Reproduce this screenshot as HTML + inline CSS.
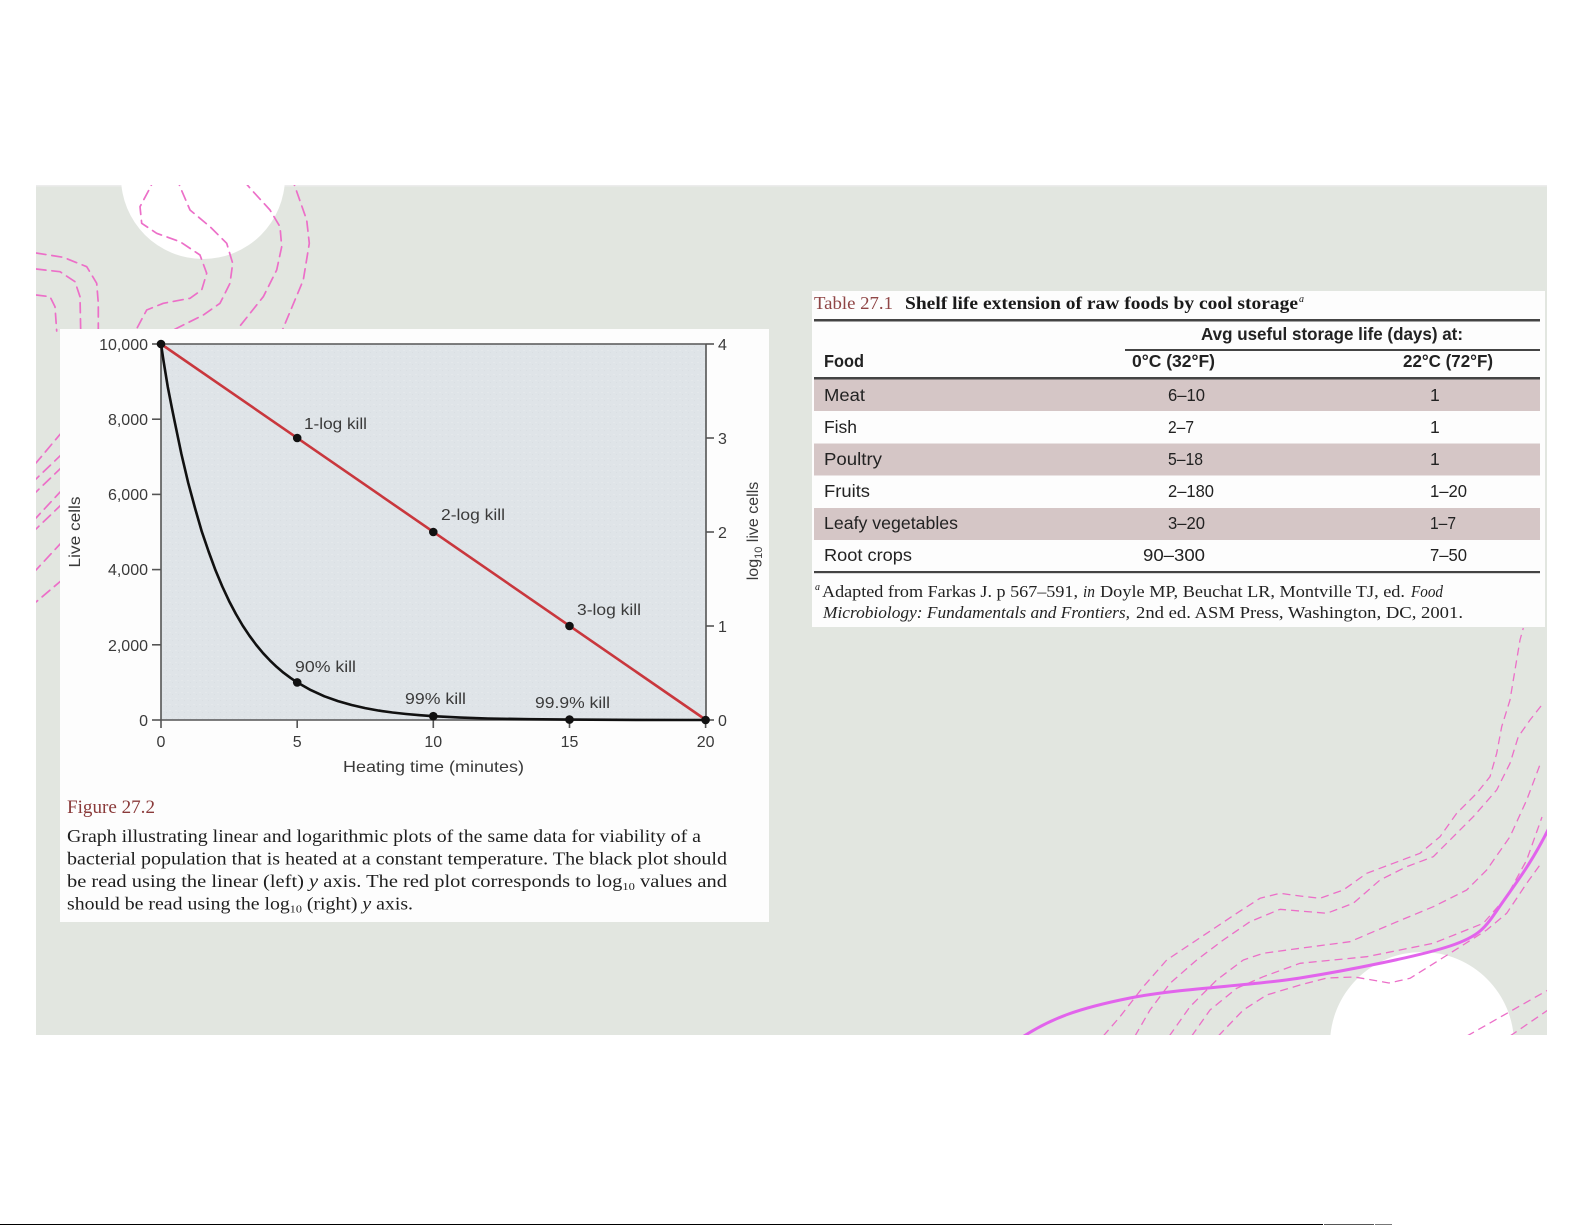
<!DOCTYPE html>
<html><head><meta charset="utf-8"><style>
html,body{margin:0;padding:0;background:#fff;}
svg{display:block;}
.s{font-family:"Liberation Sans",sans-serif;}
.r{font-family:"Liberation Serif",serif;}
</style></head><body>
<svg width="1585" height="1225" viewBox="0 0 1585 1225" xmlns="http://www.w3.org/2000/svg">
<defs>
<clipPath id="slide"><rect x="36" y="185" width="1511" height="850"/></clipPath>
<pattern id="tex" width="6" height="6" patternUnits="userSpaceOnUse">
<rect width="6" height="6" fill="#dfe4e8"/>
<rect x="1" y="2" width="2" height="1" fill="#e4e8eb"/>
<rect x="4" y="4" width="1" height="1" fill="#d9dee2"/>
</pattern>
</defs>
<rect width="1585" height="1225" fill="#ffffff"/>
<!-- slide -->
<rect x="36" y="185" width="1511" height="850" fill="#e2e6e0"/>
<rect x="36" y="185" width="1511" height="1.5" fill="#ececec"/>
<g clip-path="url(#slide)">
<circle cx="203" cy="177" r="82" fill="#ffffff"/>
<circle cx="1422" cy="1044" r="92" fill="#ffffff"/>
<g fill="none" stroke="#ec6fc8" stroke-width="1.7" stroke-dasharray="10 6" stroke-linejoin="round" stroke-linecap="round">
<polyline points="155,176 150.7,186.7 140,206.7 141.7,223.3 156.7,233.3 180,241.7 200,255 206.7,273.3 201.7,290 190,298.3 163.3,303.3 146.7,310 136,330"/>
<polyline points="176,176 180,186.7 190,210 210,226.7 226.7,243.3 232.7,263.3 230,283.3 220,303.3 203.3,315 173.3,330"/>
<polyline points="243,180 251.7,190 270,210 280,226.7 281.7,246.7 276.7,270 263.3,296.7 236,331"/>
<polyline points="291,176 295,186.7 306.7,220 309.3,243.3 303.3,280 282,331"/>
<polyline points="36,253 63.3,257.3 86.7,266.7 96.7,283.3 98.3,303.3 98.3,331"/>
<polyline points="36,269 60,271.7 75,281.7 80,296.7 80.7,331"/>
<polyline points="36,295 50,296.7 55,306.7 56.7,331"/>
<line x1="62" y1="432" x2="36" y2="463"/>
<line x1="62" y1="454" x2="36" y2="479"/>
<line x1="62" y1="467" x2="36" y2="492"/>
<line x1="62" y1="490" x2="36" y2="518"/>
<line x1="62" y1="504" x2="36" y2="529"/>
<line x1="62" y1="542" x2="36" y2="570"/>
<line x1="62" y1="580" x2="36" y2="602"/>
</g>
<g fill="none" stroke="#ec6fc8" stroke-width="1.3" stroke-dasharray="8 5" stroke-linejoin="round">
<polyline points="1103.3,1036 1120,1016.7 1143.3,986.7 1166.7,960 1196.7,940 1236.7,913.3 1260,898.3 1280,893.3 1300,896 1320,898.3 1343.3,890 1366.7,873.3 1393.3,863.3 1420,853.3 1440,836.7 1456.7,813.3 1476.7,793.3 1490,776.7 1496.7,753.3 1501.7,726.7 1510,700 1515,670 1520,640 1523.3,628"/>
<polyline points="1135,1036 1150,1010 1170,983.3 1196.7,960 1223.3,940 1250,921.7 1280,909.3 1300,911 1326.7,913.3 1353.3,903.3 1380,880 1406.7,866.7 1433.3,856.7 1453.3,836.7 1473.3,816.7 1496.7,790 1510,763.3 1518.3,736.7 1530,720 1541,706"/>
<polyline points="1169.3,1036 1190,1006.7 1216.7,980 1243.3,960 1263.3,953.3 1300,948.3 1350,941.7 1393.3,923.3 1433.3,906.7 1466.7,890 1486.7,870 1510,836.7 1526.7,800 1541,762"/>
<polyline points="1191.7,1036 1210,1010 1236.7,988.3 1263.3,976.7 1300,963.3 1366.7,956.7 1433.3,943.3 1483.3,923.3 1506.7,896.7 1526.7,860 1542,817"/>
<polyline points="1218.3,1036 1243.3,1010 1266.7,995 1300,985 1327,978 1354.7,977 1389,983 1410,978.3 1450,953.3 1486.7,930 1506.7,913.3 1526.7,883.3 1542,862"/>
<line x1="1467" y1="1036" x2="1548" y2="990"/>
<line x1="1510" y1="1036" x2="1548" y2="1010"/>
</g>
<path fill="none" stroke="#e264ec" stroke-width="3" stroke-linecap="round" d="M1018,1040 C1050,1018 1080,1008 1130,998 S1250,986 1300,978 S1420,956 1450,946 S1485,928 1500,906 S1530,866 1549,828"/>
</g>

<!-- chart panel -->
<rect x="60" y="329" width="709" height="593" fill="#fdfdfd"/>
<rect x="161" y="344" width="545" height="376" fill="url(#tex)"/>
<g stroke="#555" stroke-width="1.6" fill="none">
<line x1="161" y1="344" x2="706" y2="344"/>
<line x1="161" y1="344" x2="161" y2="720"/>
<line x1="706" y1="344" x2="706" y2="720"/>
<line x1="161" y1="720" x2="706" y2="720"/>
<line x1="152" y1="344" x2="161" y2="344"/>
<line x1="152" y1="419.2" x2="161" y2="419.2"/>
<line x1="152" y1="494.4" x2="161" y2="494.4"/>
<line x1="152" y1="569.6" x2="161" y2="569.6"/>
<line x1="152" y1="644.8" x2="161" y2="644.8"/>
<line x1="152" y1="720" x2="161" y2="720"/>
<line x1="706" y1="344" x2="714" y2="344"/>
<line x1="706" y1="438" x2="714" y2="438"/>
<line x1="706" y1="532" x2="714" y2="532"/>
<line x1="706" y1="626" x2="714" y2="626"/>
<line x1="706" y1="720" x2="714" y2="720"/>
<line x1="161" y1="720" x2="161" y2="728"/>
<line x1="297.2" y1="720" x2="297.2" y2="728"/>
<line x1="433.3" y1="720" x2="433.3" y2="728"/>
<line x1="569.5" y1="720" x2="569.5" y2="728"/>
<line x1="705.6" y1="720" x2="705.6" y2="728"/>
</g>
<line x1="161" y1="344" x2="706" y2="720" stroke="#c9373d" stroke-width="2.6"/>
<polyline fill="none" stroke="#111" stroke-width="2.6" stroke-linejoin="round" points="161,344 163.7,362 167.8,387 171.9,408 174.6,421.3 181.4,454 188.2,482.8 195,508 201.8,531.6 208.6,551.5 215.5,570.3 222.3,586.5 229.1,601.1 235.9,614 242.7,625.6 249.5,635.8 256.3,645 263.1,653.2 269.9,660.4 276.7,666.9 283.5,672.7 290.4,677.8 297.2,682.4 310.8,690.1 324.4,696.3 338,701.1 351.6,705 365.2,708.1 378.8,710.6 392.5,712.5 406.1,714 419.7,715.2 433.3,716.2 460.6,717.6 487.8,718.5 528.6,719.2 569.5,719.6 637.6,719.9 705.6,720"/>
<g fill="#111">
<circle cx="161" cy="344" r="4.3"/>
<circle cx="297.2" cy="438" r="4.3"/>
<circle cx="433.3" cy="532" r="4.3"/>
<circle cx="569.5" cy="626" r="4.3"/>
<circle cx="705.6" cy="720" r="4.3"/>
<circle cx="297.2" cy="682.4" r="4.3"/>
<circle cx="433.3" cy="716.2" r="4.3"/>
<circle cx="569.5" cy="719.6" r="4.3"/>
</g>
<g class="s" fill="#3a3a3a" font-size="16">
<text x="148" y="350" text-anchor="end">10,000</text>
<text x="148" y="425" text-anchor="end">8,000</text>
<text x="148" y="500" text-anchor="end">6,000</text>
<text x="148" y="575" text-anchor="end">4,000</text>
<text x="148" y="651" text-anchor="end">2,000</text>
<text x="148" y="726" text-anchor="end">0</text>
<text x="718" y="350">4</text>
<text x="718" y="444">3</text>
<text x="718" y="538">2</text>
<text x="718" y="632">1</text>
<text x="718" y="726">0</text>
<text x="161" y="747" text-anchor="middle">0</text>
<text x="297.2" y="747" text-anchor="middle">5</text>
<text x="433.3" y="747" text-anchor="middle">10</text>
<text x="569.5" y="747" text-anchor="middle">15</text>
<text x="705.6" y="747" text-anchor="middle">20</text>
<text x="433.5" y="772" text-anchor="middle" textLength="181" lengthAdjust="spacingAndGlyphs">Heating time (minutes)</text>
<text transform="translate(80,532) rotate(-90)" text-anchor="middle" textLength="71" lengthAdjust="spacingAndGlyphs">Live cells</text>
<text transform="translate(758,531) rotate(-90)" text-anchor="middle">log<tspan font-size="11" dy="4">10</tspan><tspan dy="-4"> live cells</tspan></text>
<text x="304" y="429" textLength="63" lengthAdjust="spacingAndGlyphs">1-log kill</text>
<text x="441" y="520" textLength="64" lengthAdjust="spacingAndGlyphs">2-log kill</text>
<text x="577" y="615" textLength="64" lengthAdjust="spacingAndGlyphs">3-log kill</text>
<text x="295" y="672" textLength="61" lengthAdjust="spacingAndGlyphs">90% kill</text>
<text x="405" y="704" textLength="61" lengthAdjust="spacingAndGlyphs">99% kill</text>
<text x="535" y="708" textLength="75" lengthAdjust="spacingAndGlyphs">99.9% kill</text>
</g>
<g class="r" font-size="18" fill="#1e1e1e">
<text x="67" y="813" fill="#8a3a3a" font-size="18.5" textLength="88" lengthAdjust="spacingAndGlyphs">Figure 27.2</text>
<text x="67" y="842" textLength="634" lengthAdjust="spacingAndGlyphs">Graph illustrating linear and logarithmic plots of the same data for viability of a</text>
<text x="67" y="864.5" textLength="660" lengthAdjust="spacingAndGlyphs">bacterial population that is heated at a constant temperature. The black plot should</text>
<text x="67" y="887" textLength="660" lengthAdjust="spacingAndGlyphs">be read using the linear (left) <tspan font-style="italic">y</tspan> axis. The red plot corresponds to log<tspan font-size="11" dy="3">10</tspan><tspan dy="-3"> values and</tspan></text>
<text x="67" y="909.5" textLength="346" lengthAdjust="spacingAndGlyphs">should be read using the log<tspan font-size="11" dy="3">10</tspan><tspan dy="-3"> (right) </tspan><tspan font-style="italic">y</tspan> axis.</text>
</g>

<!-- table panel -->
<rect x="812" y="291" width="733" height="336" fill="#fdfdfd"/>
<g fill="#d5c6c6">
<rect x="814" y="379" width="726" height="32"/>
<rect x="814" y="443.5" width="726" height="32"/>
<rect x="814" y="508" width="726" height="32"/>
</g>
<g fill="#444">
<rect x="814" y="319" width="726" height="2.5"/>
<rect x="1125" y="349" width="415" height="2"/>
<rect x="814" y="377" width="726" height="2.5"/>
<rect x="814" y="571" width="726" height="2.2"/>
</g>
<g class="r" font-size="18">
<text x="814" y="309" fill="#8f4545" textLength="79" lengthAdjust="spacingAndGlyphs">Table 27.1</text>
<text x="905" y="309" font-weight="bold" fill="#1a1a1a" textLength="393" lengthAdjust="spacingAndGlyphs">Shelf life extension of raw foods by cool storage</text>
<text x="1299" y="302" font-size="10" font-style="italic" fill="#1a1a1a">a</text>
</g>
<g class="s" font-size="17.5" fill="#222">
<text x="1201" y="340" font-weight="bold" textLength="262" lengthAdjust="spacingAndGlyphs">Avg useful storage life (days) at:</text>
<text x="824" y="367" font-weight="bold" textLength="40" lengthAdjust="spacingAndGlyphs">Food</text>
<text x="1132" y="367" font-weight="bold" textLength="83" lengthAdjust="spacingAndGlyphs">0°C (32°F)</text>
<text x="1403" y="367" font-weight="bold" textLength="90" lengthAdjust="spacingAndGlyphs">22°C (72°F)</text>
<text x="824" y="401" textLength="41" lengthAdjust="spacingAndGlyphs">Meat</text>
<text x="824" y="433" textLength="33" lengthAdjust="spacingAndGlyphs">Fish</text>
<text x="824" y="465" textLength="58" lengthAdjust="spacingAndGlyphs">Poultry</text>
<text x="824" y="497" textLength="46" lengthAdjust="spacingAndGlyphs">Fruits</text>
<text x="824" y="529" textLength="134" lengthAdjust="spacingAndGlyphs">Leafy vegetables</text>
<text x="824" y="561" textLength="88" lengthAdjust="spacingAndGlyphs">Root crops</text>
<text x="1168" y="401" textLength="37" lengthAdjust="spacingAndGlyphs">6–10</text>
<text x="1168" y="433" textLength="26" lengthAdjust="spacingAndGlyphs">2–7</text>
<text x="1168" y="465" textLength="35" lengthAdjust="spacingAndGlyphs">5–18</text>
<text x="1168" y="497" textLength="46" lengthAdjust="spacingAndGlyphs">2–180</text>
<text x="1168" y="529" textLength="37" lengthAdjust="spacingAndGlyphs">3–20</text>
<text x="1143" y="561" textLength="62" lengthAdjust="spacingAndGlyphs">90–300</text>
<text x="1430" y="401">1</text>
<text x="1430" y="433">1</text>
<text x="1430" y="465">1</text>
<text x="1430" y="497" textLength="37" lengthAdjust="spacingAndGlyphs">1–20</text>
<text x="1430" y="529" textLength="26" lengthAdjust="spacingAndGlyphs">1–7</text>
<text x="1430" y="561" textLength="37" lengthAdjust="spacingAndGlyphs">7–50</text>
</g>
<g class="r" font-size="16.5" fill="#222">
<text x="815" y="590" font-size="10" font-style="italic">a</text>
<text x="822" y="597" textLength="256" lengthAdjust="spacingAndGlyphs">Adapted from Farkas J. p 567–591,</text>
<text x="1083" y="597" font-style="italic" textLength="12" lengthAdjust="spacingAndGlyphs">in</text>
<text x="1100" y="597" textLength="305" lengthAdjust="spacingAndGlyphs">Doyle MP, Beuchat LR, Montville TJ, ed.</text>
<text x="1411" y="597" font-style="italic" textLength="32" lengthAdjust="spacingAndGlyphs">Food</text>
<text x="823" y="618" font-style="italic" textLength="307" lengthAdjust="spacingAndGlyphs">Microbiology: Fundamentals and Frontiers,</text>
<text x="1136" y="618" textLength="327" lengthAdjust="spacingAndGlyphs">2nd ed. ASM Press, Washington, DC, 2001.</text>
</g>
<!-- bottom edge line -->
<rect x="0" y="1224" width="1323" height="1" fill="#000"/>
<rect x="1324" y="1224" width="50" height="1" fill="#555"/>
<rect x="1375" y="1224" width="17" height="1" fill="#777"/>
</svg>
</body></html>
